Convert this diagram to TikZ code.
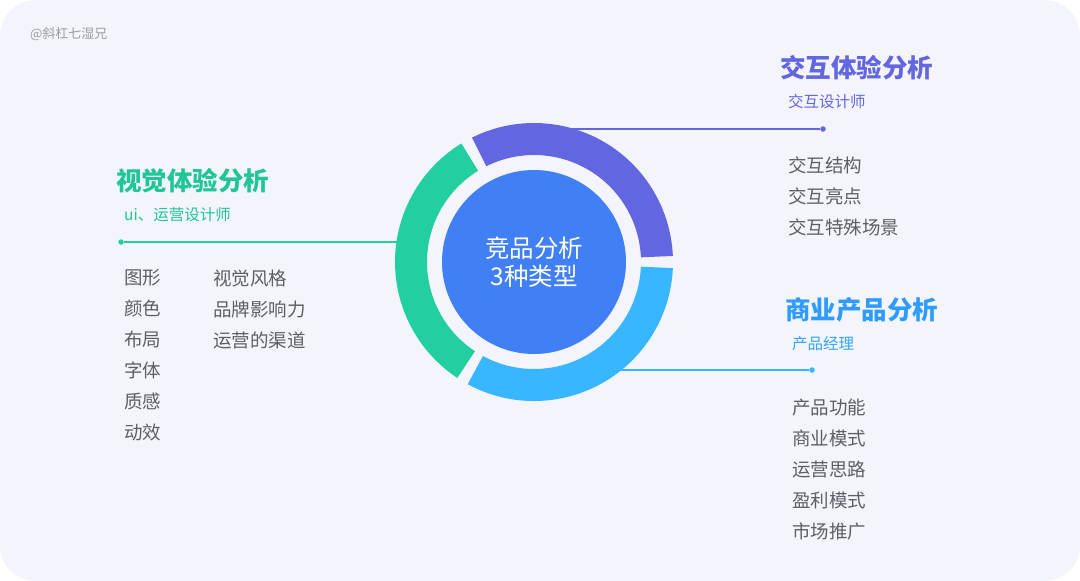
\documentclass[tikz,border=0pt]{standalone}
\usepackage{fontspec}
\setmainfont{Noto Sans CJK SC}
\usepackage{tikz}
\usetikzlibrary{positioning}

\definecolor{cardbg}{HTML}{F4F5FC}
\definecolor{purp}{HTML}{6366E1}
\definecolor{mint}{HTML}{22CFA0}
\definecolor{sky}{HTML}{38B6FF}
\definecolor{corebl}{HTML}{407FF4}
\definecolor{itemgray}{HTML}{5C5F68}
\definecolor{markgray}{HTML}{9A9BA8}

\begin{document}
\begin{tikzpicture}[
    x=1pt, y=-1pt,
    title/.style={anchor=west, inner sep=0pt, font=\fontsize{25.5}{29}\selectfont\bfseries},
    role/.style={anchor=west, inner sep=0pt, font=\fontsize{15.5}{18}\selectfont},
    items/.style={anchor=north west, inner sep=0pt, align=left, text=itemgray, font=\fontsize{18.5}{31}\selectfont},
    dot/.style={circle, inner sep=0pt, minimum size=5.5pt},
    link/.style={line width=1.3pt}
]

% card
\useasboundingbox (0,0) rectangle (1080,581);
\fill[white] (0,0) rectangle (1080,581);
\fill[cardbg, rounded corners=36pt] (0,0) rectangle (1080,581);

\node[anchor=west, inner sep=0pt, text=markgray, font=\fontsize{13}{15}\selectfont] (mark) at (30,34) {@斜杠七湿兄};

% connectors (behind the ring)
\coordinate (pstart) at (560,129);
\coordinate (gstart) at (416,242);
\coordinate (bstart) at (590,370);
\node[dot, fill=purp] (pdot) at (823,129) {};
\node[dot, fill=mint] (gdot) at (121,242) {};
\node[dot, fill=sky] (bdot) at (812,370) {};
\draw[link, purp] (pstart) -- (pdot);
\draw[link, mint] (gstart) -- (gdot);
\draw[link, sky] (bstart) -- (bdot);

% ring
\begin{scope}[shift={(534,262)}]
\fill[purp] (-116.5:107) arc[start angle=-116.5, end angle=-2.5, radius=107] -- (-2.5:139) arc[start angle=-2.5, end angle=-116.5, radius=139] -- cycle;
\fill[sky] (2.5:107) arc[start angle=2.5, end angle=118.5, radius=107] -- (118.5:139) arc[start angle=118.5, end angle=2.5, radius=139] -- cycle;
\fill[mint] (-121.5:107) arc[start angle=-121.5, end angle=-236.5, radius=107] -- (-236.5:139) arc[start angle=-236.5, end angle=-121.5, radius=139] -- cycle;
\end{scope}

\node[circle, fill=corebl, minimum size=184pt, inner sep=0pt, text=white, align=center, font=\fontsize{24.5}{28}\selectfont] (core) at (534,262) {竞品分析\\3种类型};

% interaction
\node[title, text=purp] (ptitle) at (780,68) {交互体验分析};
\node[role, text=purp] (prole) at (788,102) {交互设计师};
\node[items] (plist) at (788,156.5) {交互结构\\交互亮点\\交互特殊场景};

% visual
\node[title, text=mint!95!black] (gtitle) at (116,181) {视觉体验分析};
\node[role, text=mint!95!black] (grole) at (124,215) {ui、运营设计师};
\node[items] (glist) at (124,269.5) {图形\\颜色\\布局\\字体\\质感\\动效};
\node[items] (glist2) at (213,269.5) {视觉风格\\品牌影响力\\运营的渠道};

% business
\node[title, text=sky!85!blue] (btitle) at (785,310) {商业产品分析};
\node[role, text=sky!90!blue] (brole) at (792,344) {产品经理};
\node[items] (blist) at (792,398.5) {产品功能\\商业模式\\运营思路\\盈利模式\\市场推广};

\end{tikzpicture}
\end{document}
